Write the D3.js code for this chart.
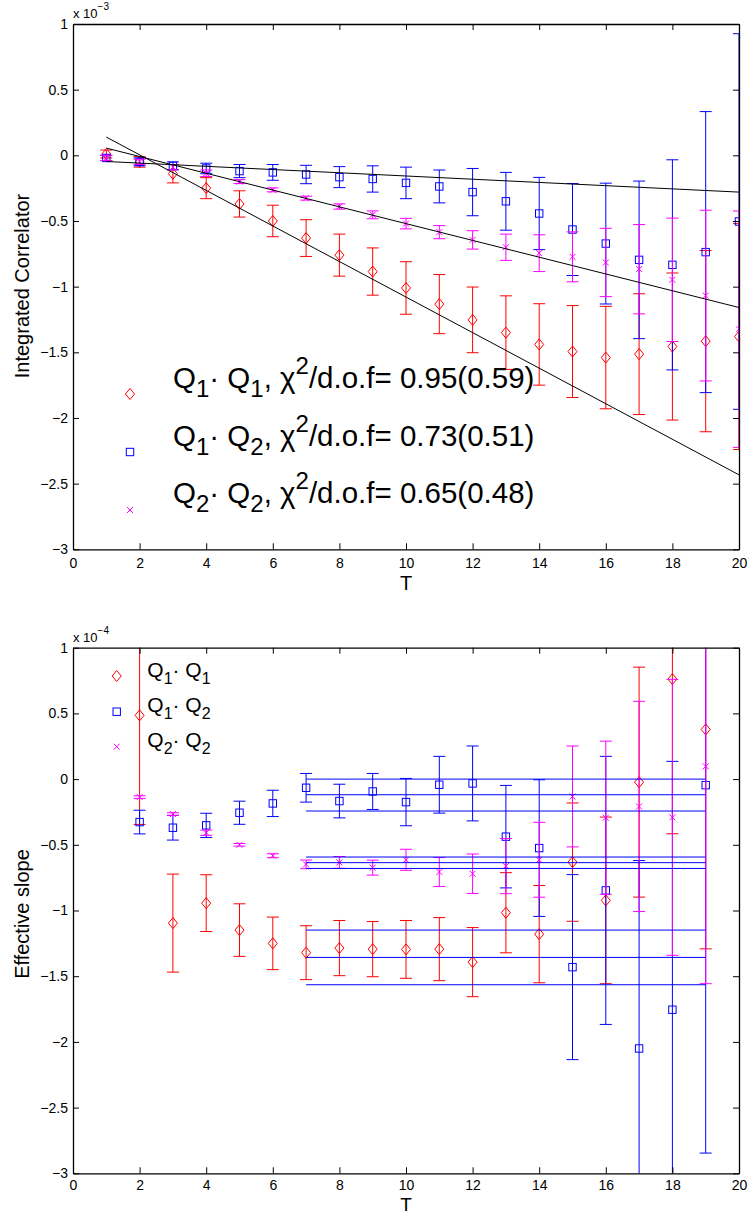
<!DOCTYPE html>
<html><head><meta charset="utf-8">
<script src="https://cdn.jsdelivr.net/npm/d3@7"></script>
<style>
body{margin:0;background:#fff}
text{font-family:"Liberation Sans",Arial,Helvetica,sans-serif;fill:#000}
</style></head>
<body>
<svg id="c" width="749" height="1215"></svg>
<script>
// ---------- data (top panel, units of 1e-3) ----------
const topT = [1,2,3,4,5,6,7,8,9,10,11,12,13,14,15,16,17,18,19,20];
const topQ11 = [0.01,-0.05,-0.14,-0.25,-0.37,-0.50,-0.63,-0.76,-0.885,-1.01,-1.133,-1.253,-1.35,-1.44,-1.494,-1.54,-1.514,-1.456,-1.415,-1.38];
const topQ11Err = [0.03,0.04,0.07,0.08,0.10,0.12,0.14,0.16,0.18,0.20,0.225,0.25,0.28,0.31,0.35,0.39,0.46,0.56,0.69,0.86];
const topQ12 = [-0.02,-0.05,-0.08,-0.10,-0.12,-0.13,-0.146,-0.166,-0.18,-0.21,-0.237,-0.28,-0.35,-0.443,-0.565,-0.672,-0.796,-0.834,-0.737,-0.504];
const topQ12Err = [0.02,0.03,0.03,0.04,0.05,0.06,0.07,0.08,0.10,0.12,0.125,0.18,0.22,0.275,0.35,0.46,0.60,0.80,1.07,1.43];
const topQ22 = [-0.02,-0.05,-0.09,-0.136,-0.20,-0.263,-0.326,-0.39,-0.453,-0.52,-0.585,-0.644,-0.70,-0.745,-0.773,-0.816,-0.867,-0.948,-1.068,-1.324];
const topQ22Err = [0.02,0.02,0.02,0.025,0.015,0.015,0.015,0.02,0.03,0.04,0.05,0.07,0.10,0.14,0.19,0.26,0.34,0.47,0.65,0.90];
// linear fits: value at T=1 and T=20
const fitT = [1, 20];
const fitQ11 = [0.139, -2.433];
const fitQ12 = [-0.047, -0.28];
const fitQ22 = [0.055, -1.159];

// ---------- data (bottom panel, units of 1e-4) ----------
const botT = [2,3,4,5,6,7,8,9,10,11,12,13,14,15,16,17,18,19];
const botQ11 = [0.485,-1.096,-0.944,-1.149,-1.25,-1.321,-1.286,-1.294,-1.296,-1.294,-1.393,-1.017,-1.18,-0.632,-0.923,-0.023,0.761,0.378];
const botQ11Err = [0.83,0.373,0.216,0.2,0.2,0.205,0.21,0.21,0.22,0.24,0.263,0.305,0.37,0.45,0.634,0.875,1.177,1.67];
const botQ12 = [-0.327,-0.37,-0.352,-0.256,-0.185,-0.066,-0.167,-0.094,-0.175,-0.043,-0.033,-0.438,-0.525,-1.431,-0.847,-2.05,-1.755,-0.046];
const botQ12Err = [0.09,0.094,0.092,0.088,0.1,0.109,0.128,0.137,0.18,0.216,0.285,0.39,0.52,0.704,1.02,1.43,1.89,2.8];
const botQ22 = [-0.137,-0.266,-0.408,-0.5,-0.583,-0.649,-0.634,-0.674,-0.614,-0.707,-0.72,-0.662,-0.614,-0.132,-0.294,-0.208,-0.291,0.097];
const botQ22Err = [0.01,0.01,0.02,0.01,0.015,0.033,0.045,0.057,0.08,0.11,0.15,0.21,0.285,0.384,0.583,0.8,1.05,1.654];
// plateau fit bands: [upper, central, lower]
const plateauT = [7, 19];
const plateauQ11 = [-1.149, -1.357, -1.565];
const plateauQ12 = [0.0, -0.119, -0.243];
const plateauQ22 = [-0.593, -0.636, -0.68];

// ---------- ticks / labels ----------
const xTicks = [0,2,4,6,8,10,12,14,16,18,20];
const yTicks = [-3,-2.5,-2,-1.5,-1,-0.5,0,0.5,1];
const topYLabel = "Integrated Correlator";
const botYLabel = "Effective slope";
const xLabel = "T";
const topExp = "−3", botExp = "−4";
const topLegend = [
  [["Q",""],["1","sub"],["· Q",""],["1","sub"],[", χ",""],["2","sup"],["/d.o.f= 0.95(0.59)",""]],
  [["Q",""],["1","sub"],["· Q",""],["2","sub"],[", χ",""],["2","sup"],["/d.o.f= 0.73(0.51)",""]],
  [["Q",""],["2","sub"],["· Q",""],["2","sub"],[", χ",""],["2","sup"],["/d.o.f= 0.65(0.48)",""]]
];
const botLegend = [
  [["Q",""],["1","sub"],["· Q",""],["1","sub"]],
  [["Q",""],["1","sub"],["· Q",""],["2","sub"]],
  [["Q",""],["2","sub"],["· Q",""],["2","sub"]]
];
const colors = ["#ff0000","#0000ff","#ff00ff"];
const markers = ["diamond","square","x"];

const svg = d3.select("#c");

function marker(g, type, x, y, color){
  if(type==="diamond"){
    g.append("path").attr("d",`M${x},${y-5.5}L${x+4.5},${y}L${x},${y+5.5}L${x-4.5},${y}Z`)
      .attr("fill","none").attr("stroke",color).attr("stroke-width",1);
  } else if(type==="square"){
    g.append("rect").attr("x",x-3.7).attr("y",y-3.7).attr("width",7.4).attr("height",7.4)
      .attr("fill","none").attr("stroke",color).attr("stroke-width",1);
  } else {
    g.append("path").attr("d",`M${x-3},${y-3}L${x+3},${y+3}M${x-3},${y+3}L${x+3},${y-3}`)
      .attr("stroke",color).attr("stroke-width",1);
  }
}

function richText(g, x, y, parts, size, subSize, subDy, supDy){
  const t = g.append("text").attr("x",x).attr("y",y).attr("font-size",size);
  let shift = 0;
  parts.forEach(([s,kind])=>{
    let target = kind==="sub" ? subDy : kind==="sup" ? -supDy : 0;
    const ts = t.append("tspan").text(s).attr("dy", target - shift);
    if(kind) ts.attr("font-size", subSize);
    shift = target;
  });
  return t;
}

function panel(cfg){
  const x = d3.scaleLinear([0,20],[73,739]);
  const y = d3.scaleLinear([-3,1],[cfg.bottom,cfg.top]);
  const g = svg.append("g");
  const clipId = "clip"+cfg.id;
  svg.append("defs").append("clipPath").attr("id",clipId)
    .append("rect").attr("x",73).attr("y",cfg.top).attr("width",666).attr("height",cfg.bottom-cfg.top);
  const plot = g.append("g").attr("clip-path",`url(#${clipId})`);

  cfg.series.forEach((s,i)=>{
    const sg = plot.append("g");
    const col = colors[i];
    s.v.forEach((v,j)=>{
      const t = cfg.T[j], e = s.e[j];
      const px = x(t), y1 = y(v+e), y2 = y(v-e);
      sg.append("line").attr("x1",px).attr("x2",px).attr("y1",y1).attr("y2",y2).attr("stroke",col).attr("stroke-width",1);
      sg.append("line").attr("x1",px-6).attr("x2",px+6).attr("y1",y1).attr("y2",y1).attr("stroke",col).attr("stroke-width",1);
      sg.append("line").attr("x1",px-6).attr("x2",px+6).attr("y1",y2).attr("y2",y2).attr("stroke",col).attr("stroke-width",1);
      marker(sg, markers[i], px, y(v), col);
    });
  });
  cfg.drawFits(plot, x, y);

  // axes
  const ax = g.append("g");
  ax.append("g").attr("transform",`translate(0,${cfg.bottom})`)
    .call(d3.axisBottom(x).tickValues(xTicks).tickSizeInner(-6).tickSizeOuter(0).tickPadding(cfg.xpad).tickFormat(d3.format("")));
  ax.append("g").attr("transform",`translate(0,${cfg.top})`)
    .call(d3.axisTop(x).tickValues(xTicks).tickSizeInner(-6).tickSizeOuter(0).tickFormat(""));
  ax.append("g").attr("transform",`translate(73,0)`)
    .call(d3.axisLeft(y).tickValues(yTicks).tickSizeInner(-6).tickSizeOuter(0).tickPadding(5).tickFormat(d3.format("")));
  ax.append("g").attr("transform",`translate(739,0)`)
    .call(d3.axisRight(y).tickValues(yTicks).tickSizeInner(-6).tickSizeOuter(0).tickFormat(""));
  ax.selectAll(".domain").attr("stroke","#000").attr("stroke-width",1.3);
  ax.selectAll(".tick line").attr("stroke","#000").attr("stroke-width",1);
  ax.selectAll(".tick text").attr("font-size",14).attr("font-family","'Liberation Sans',Arial,sans-serif").attr("fill","#000");

  // exponent
  const ex = g.append("text").attr("x",73).attr("y",cfg.top-6).attr("font-size",13).text("x 10");
  ex.append("tspan").attr("dy",-8).attr("font-size",10).text(cfg.exp);

  // labels
  g.append("text").attr("transform",`translate(29,${cfg.ylabelY}) rotate(-90)`).attr("text-anchor","middle")
    .attr("font-size",20).text(cfg.ylabel);
  g.append("text").attr("x",406).attr("y",cfg.xlabelY).attr("text-anchor","middle").attr("font-size",cfg.xlabelSize).text(xLabel);

  // legend
  const lg = g.append("g");
  cfg.legend.rows.forEach((parts,i)=>{
    marker(lg, markers[i], cfg.legend.mx, cfg.legend.my[i], colors[i]);
    richText(lg, cfg.legend.tx, cfg.legend.ty[i], parts, cfg.legend.size, cfg.legend.subSize, cfg.legend.subDy, cfg.legend.supDy);
  });
}

panel({
  id:"top", top:24, bottom:549.3, T:topT, exp:topExp, ylabel:topYLabel, ylabelY:286, xlabelY:590, xlabelSize:20, xpad:9,
  series:[{v:topQ11,e:topQ11Err},{v:topQ12,e:topQ12Err},{v:topQ22,e:topQ22Err}],
  drawFits:(plot,x,y)=>{
    [fitQ11,fitQ12,fitQ22].forEach(f=>{
      plot.append("line").attr("x1",x(fitT[0])).attr("x2",x(fitT[1])).attr("y1",y(f[0])).attr("y2",y(f[1]))
        .attr("stroke","#000").attr("stroke-width",1);
    });
  },
  legend:{rows:topLegend, mx:130, my:[394,452,510], tx:173, ty:[388,445.5,502.5], size:29.5, subSize:24, subDy:9, supDy:14}
});

panel({
  id:"bot", top:647.7, bottom:1173.3, T:botT, exp:botExp, ylabel:botYLabel, ylabelY:914, xlabelY:1211, xlabelSize:19, xpad:7,
  series:[{v:botQ11,e:botQ11Err},{v:botQ12,e:botQ12Err},{v:botQ22,e:botQ22Err}],
  drawFits:(plot,x,y)=>{
    [plateauQ11,plateauQ12,plateauQ22].forEach(band=>{
      band.forEach(v=>{
        plot.append("line").attr("x1",x(plateauT[0])).attr("x2",x(plateauT[1])).attr("y1",y(v)).attr("y2",y(v))
          .attr("stroke","#0000ff").attr("stroke-width",1);
      });
    });
  },
  legend:{rows:botLegend, mx:116.7, my:[676,711.7,746.7], tx:147.3, ty:[676.5,711.7,746.7], size:21, subSize:16, subDy:7, supDy:10}
});
</script>
</body></html>
